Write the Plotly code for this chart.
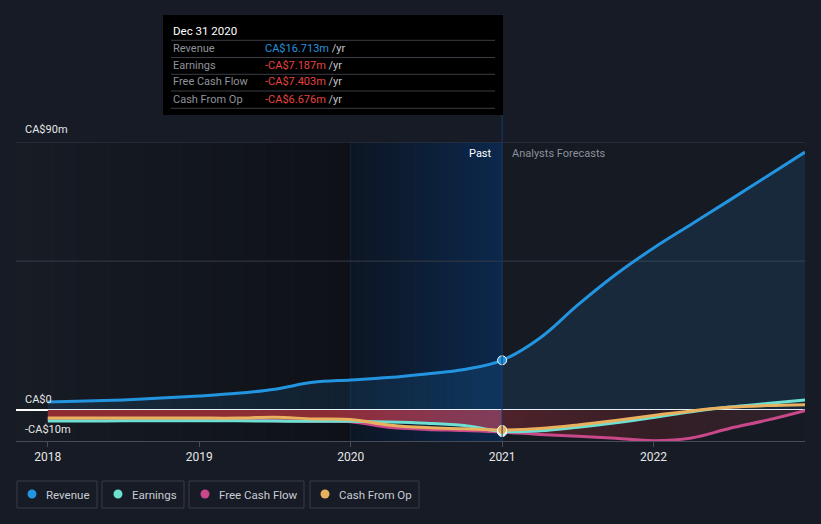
import plotly.graph_objects as go

# ---------------- data (CA$ millions) ----------------
years = [2018.0, 2018.25, 2018.5, 2018.75, 2019.0, 2019.25, 2019.5, 2019.75,
         2020.0, 2020.25, 2020.5, 2020.75, 2021.0, 2021.25, 2021.5, 2021.75,
         2022.0, 2022.25, 2022.5, 2022.75, 2023.0]
revenue = [2.7, 3.0, 3.4, 4.0, 4.7, 5.6, 7.0, 9.3,
           10.1, 10.9, 12.1, 13.6, 16.7, 24.2, 35.3, 45.5,
           54.4, 62.4, 70.4, 78.5, 86.6]
earnings = [-3.7, -3.7, -3.6, -3.6, -3.6, -3.6, -3.7, -3.8,
            -3.8, -4.0, -4.4, -5.2, -7.2, -7.0, -5.8, -4.3,
            -2.5, -0.6, 1.0, 2.2, 3.4]
free_cash_flow = [-3.0, -3.0, -3.0, -3.1, -3.1, -3.2, -3.6, -3.8,
                  -3.9, -5.8, -6.5, -6.9, -7.4, -8.2, -8.8, -9.5,
                  -10.3, -9.4, -6.2, -3.4, -0.2]
cash_from_op = [-2.7, -2.7, -2.7, -2.7, -2.7, -2.7, -2.4, -3.0,
                -3.2, -5.0, -5.9, -6.3, -6.7, -6.2, -5.0, -3.5,
                -1.8, -0.3, 0.9, 1.5, 1.8]
tick_years = [2018, 2019, 2020, 2021, 2022]
tick_labels = ["2018", "2019", "2020", "2021", "2022"]
series_names = ["Revenue", "Earnings", "Free Cash Flow", "Cash From Op"]
series_colors = ["#2394df", "#6ee0d2", "#c8488a", "#e9b05e"]
past_start, past_end = 2020.0, 2021.0
tooltip_date = "Dec 31 2020"
tooltip_values = ["CA$16.713m", "-CA$7.187m", "-CA$7.403m", "-CA$6.676m"]
y_labels = [(90, "CA$90m"), (0, "CA$0"), (-10, "-CA$10m")]
grid_values = [50, 90]

# ---------------- layout geometry ----------------
W, H = 821, 524
L, R, T, B = 16, 805, 142, 441          # plot area in pixels
XMIN, XMAX = 2017.79, 2023.0
YMIN, YMAX = -10.4, 90.0

def px(xp):
    return (xp - L) / (R - L)

def py(yp):
    return (B - yp) / (B - T)

BG = "#161b25"

fig = go.Figure()

# revenue area
fig.add_trace(go.Scatter(x=years, y=revenue, mode="lines", line=dict(width=0, shape="spline"),
                         fill="tozeroy", fillcolor="rgba(35,148,223,0.13)", hoverinfo="skip"))

# past negative fill (to earnings line)
ip = years.index(past_end)
fig.add_trace(go.Scatter(
    x=years[:ip + 1], y=earnings[:ip + 1], mode="lines",
    line=dict(width=0, shape="spline"), fill="tozeroy",
    fillgradient=dict(type="horizontal",
                      colorscale=[[0, "rgb(142,44,50)"], [0.62, "rgb(140,45,52)"],
                                  [0.75, "rgb(140,50,70)"], [1, "rgb(128,62,92)"]]),
    hoverinfo="skip"))
# forecast negative fill (to FCF line)
fig.add_trace(go.Scatter(
    x=years[ip:], y=free_cash_flow[ip:], mode="lines",
    line=dict(width=0, shape="spline"), fill="tozeroy",
    fillgradient=dict(type="horizontal",
                      colorscale=[[0, "rgb(80,34,42)"], [0.5, "rgb(52,30,38)"],
                                  [1, "rgb(46,34,42)"]]),
    hoverinfo="skip"))

# lines
for vals, name, col in [(free_cash_flow, "Free Cash Flow", series_colors[2]),
                        (earnings, "Earnings", series_colors[1]),
                        (cash_from_op, "Cash From Op", series_colors[3]),
                        (revenue, "Revenue", series_colors[0])]:
    fig.add_trace(go.Scatter(x=years, y=vals, mode="lines", name=name,
                             line=dict(color=col, width=3, shape="spline"),
                             hoverinfo="skip"))

# hover markers at Dec 2020
for vals, col in [(free_cash_flow, series_colors[2]), (earnings, series_colors[1]),
                  (cash_from_op, series_colors[3]), (revenue, series_colors[0])]:
    fig.add_trace(go.Scatter(x=[years[ip]], y=[vals[ip]], mode="markers",
                             marker=dict(size=9, color=col, line=dict(color="#ffffff", width=1)),
                             hoverinfo="skip"))

shapes = []

def lerp(c1, c2, t):
    return tuple(round(a + (b - a) * t) for a, b in zip(c1, c2))

def gradient(xa, xb, c1, c2, n=60):
    w = (xb - xa) / n
    for i in range(n):
        x0 = xa + w * i
        x1 = min(xb, x0 + w * 2)   # overlap to avoid seams
        c = lerp(c1, c2, i / (n - 1))
        shapes.append(dict(type="rect", xref="x", yref="y", x0=x0, x1=x1, y0=YMIN, y1=YMAX,
                           fillcolor="rgb(%d,%d,%d)" % c, line=dict(width=0), layer="below"))

gradient(XMIN, past_start, (23, 28, 37), (14, 17, 23))
gradient(past_start, past_end, (13, 22, 36), (12, 40, 76))
# forecast background
shapes.append(dict(type="rect", xref="x", yref="y", x0=past_end, x1=XMAX, y0=YMIN, y1=YMAX,
                   fillcolor="#151a23", line=dict(width=0), layer="below"))
# faint edge at 2020
shapes.append(dict(type="line", xref="x", yref="y", x0=past_start, x1=past_start, y0=YMIN, y1=YMAX,
                   line=dict(color="#14213a", width=1), layer="below"))
# grid lines
for g in grid_values:
    shapes.append(dict(type="line", xref="x", yref="y", x0=XMIN, x1=XMAX, y0=g, y1=g,
                       line=dict(color="#363b46", width=1), layer="below"))
# hover line at 2021 (extends up to tooltip)
shapes.append(dict(type="line", xref="x", yref="paper", x0=past_end, x1=past_end,
                   y0=0, y1=py(115), line=dict(color="#173a68", width=1)))

# tooltip box
shapes.append(dict(type="rect", xref="paper", yref="paper", x0=px(163), x1=px(503),
                   y0=py(115), y1=py(15), fillcolor="#000000", line=dict(width=0)))
for yy in [40.3, 57.5, 74.3, 91.0, 108.3]:
    shapes.append(dict(type="line", xref="paper", yref="paper", x0=px(171), x1=px(495),
                       y0=py(yy), y1=py(yy), line=dict(color="#3a3d44", width=1)))

annotations = []
annotations.append(dict(xref="paper", yref="paper", x=px(171), y=py(30.7), text=tooltip_date,
                        showarrow=False, xanchor="left", yanchor="middle",
                        font=dict(family="Roboto", size=11.5, color="#ffffff")))
row_y = [48.3, 65.3, 82.0, 99.0]
for name, val, yy in zip(series_names, tooltip_values, row_y):
    vcol = series_colors[0] if not val.startswith("-") else "#e8423f"
    annotations.append(dict(xref="paper", yref="paper", x=px(171), y=py(yy), text=name,
                            showarrow=False, xanchor="left", yanchor="middle",
                            font=dict(family="Roboto", size=11, color="#8f939b")))
    annotations.append(dict(xref="paper", yref="paper", x=px(263), y=py(yy),
                            text="<span style='color:%s'>%s</span> /yr" % (vcol, val),
                            showarrow=False, xanchor="left", yanchor="middle",
                            font=dict(family="Roboto", size=11, color="#c4c6cb")))

# Past / Analysts Forecasts
annotations.append(dict(xref="paper", yref="paper", x=px(494), y=py(153), text="Past",
                        showarrow=False, xanchor="right", yanchor="middle",
                        font=dict(family="Roboto", size=11, color="#ffffff")))
annotations.append(dict(xref="paper", yref="paper", x=px(510), y=py(153), text="Analysts Forecasts",
                        showarrow=False, xanchor="left", yanchor="middle",
                        font=dict(family="Roboto", size=11, color="#8c9099")))

# y labels
label_px = {90: 129, 0: 399, -10: 429}
for v, txt in y_labels:
    annotations.append(dict(xref="paper", yref="paper", x=px(23), y=py(label_px[v]), text=txt,
                            showarrow=False, xanchor="left", yanchor="middle",
                            font=dict(family="Roboto", size=11, color="#e6e6e6")))

# legend boxes
legend_boxes = [(17, 97, 32, 44), (102, 184, 118, 130), (189, 304, 205, 217), (310, 419, 325, 337)]
for (bx0, bx1, dx, tx), name, col in zip(legend_boxes, series_names, series_colors):
    shapes.append(dict(type="rect", xref="paper", yref="paper", x0=px(bx0), x1=px(bx1),
                       y0=py(508), y1=py(481), fillcolor="rgba(0,0,0,0)",
                       line=dict(color="#383d48", width=1)))
    shapes.append(dict(type="circle", xref="paper", yref="paper", x0=px(dx - 4.5), x1=px(dx + 4.5),
                       y0=py(494 + 4.5), y1=py(494 - 4.5), fillcolor=col, line=dict(width=0)))
    annotations.append(dict(xref="paper", yref="paper", x=px(tx), y=py(494.5), text=name,
                            showarrow=False, xanchor="left", yanchor="middle",
                            font=dict(family="Roboto", size=11.5, color="#c9ccd2")))

fig.update_layout(
    width=W, height=H, margin=dict(l=L, r=W - R, t=T, b=H - B),
    paper_bgcolor=BG, plot_bgcolor=BG, showlegend=False,
    shapes=shapes, annotations=annotations,
    xaxis=dict(range=[XMIN, XMAX], tickvals=tick_years, ticktext=tick_labels,
               showgrid=False, zeroline=False, showline=True, linecolor="#464b56", linewidth=1,
               ticks="outside", ticklen=5, tickcolor="#464b56",
               tickfont=dict(family="Roboto", size=12, color="#e6e6e6"), fixedrange=True),
    yaxis=dict(range=[YMIN, YMAX], showticklabels=False, showgrid=False,
               zeroline=True, zerolinecolor="#ffffff", zerolinewidth=1.5, fixedrange=True),
)

fig.write_html("out.html")
